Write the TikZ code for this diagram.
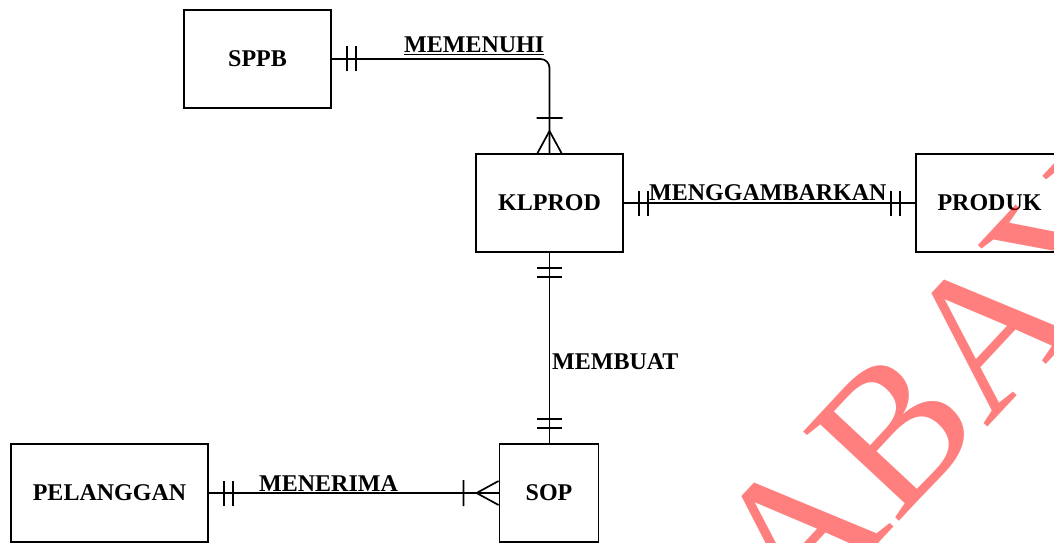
\documentclass[tikz,border=0pt]{standalone}
\usepackage{fontspec}
\setmainfont{Liberation Serif}
\newfontfamily\wmfont{Liberation Serif}
\usetikzlibrary{calc}
\begin{document}
\begin{tikzpicture}[x=1pt,y=1pt,
  entity/.style={draw, line width=1.9pt, inner sep=0pt, minimum height=98pt,
    font=\fontsize{24}{28}\selectfont\bfseries},
  link/.style={line width=1.7pt},
  rel/.style={inner sep=0pt, font=\fontsize{24}{28}\selectfont\bfseries},
  wm/.style={inner sep=0pt, rotate=47, text=red, text opacity=0.5,
    font=\wmfont\fontsize{200}{200}\selectfont},
  % exactly one: two bars near the entity
  pics/onlyone/.style={code={
    \draw[link] (15,-12.5) -- (15,12.5) (24,-12.5) -- (24,12.5);}},
  % one or many: crow's foot on the entity, bar further out
  pics/onemany/.style={code={
    \draw[link] (0,-12) -- (22,0) -- (0,12) (35,-13) -- (35,13);}}
]
\useasboundingbox (0,0) rectangle (1054,542);
\clip (0,0) rectangle (1054,542);

% entities
\node[entity, minimum width=147pt] (sppb)      at (257.5,483) {SPPB};
\node[entity, minimum width=147pt] (klprod)    at (549.5,339) {KLPROD};
\node[entity, minimum width=147pt] (produk)    at (989.5,339) {PRODUK};
\node[entity, minimum width=197pt] (pelanggan) at (109.5,49)  {PELANGGAN};
\node[entity, minimum width=99pt]  (sop)       at (549,49)    {SOP};

% relationships
\draw[link, rounded corners=9pt] (sppb.east) -| (klprod.north);
\draw[link] (klprod.east) -- (produk.west);
\draw[link] (klprod.south) -- (klprod.south |- sop.north);
\draw[link] (pelanggan.east) -- (sop.west);

% cardinalities
\pic at (sppb.east) {onlyone};
\pic[rotate=90] at (klprod.north) {onemany};
\pic at (klprod.east) {onlyone};
\pic[rotate=180] at (produk.west) {onlyone};
\pic[rotate=-90] at (klprod.south) {onlyone};
\pic[rotate=90] at (klprod.south |- sop.north) {onlyone};
\pic at (pelanggan.east) {onlyone};
\pic[rotate=180] at (sop.west) {onemany};

% relationship names
\node[rel, anchor=base west] (lmemenuhi) at (404,489)   {MEMENUHI};
\node[rel, anchor=base west] (lgambar)   at (649,341.5) {MENGGAMBARKAN};
\node[rel, anchor=base west] (lbuat)     at (552,172.7) {MEMBUAT};
\node[rel, anchor=base west] (lterima)   at (259,50.5)  {MENERIMA};
\foreach \n in {lmemenuhi,lgambar,lterima}
  \draw[line width=1.2pt] ([yshift=-1.8pt]\n.base west) -- ([yshift=-1.8pt]\n.base east);

% watermark
\node[wm, anchor=base east] (wma) at (895,16) {SURA};
\node[wm, anchor=base west] (wmb) at (895,16) {BAYA};
\end{tikzpicture}
\end{document}
